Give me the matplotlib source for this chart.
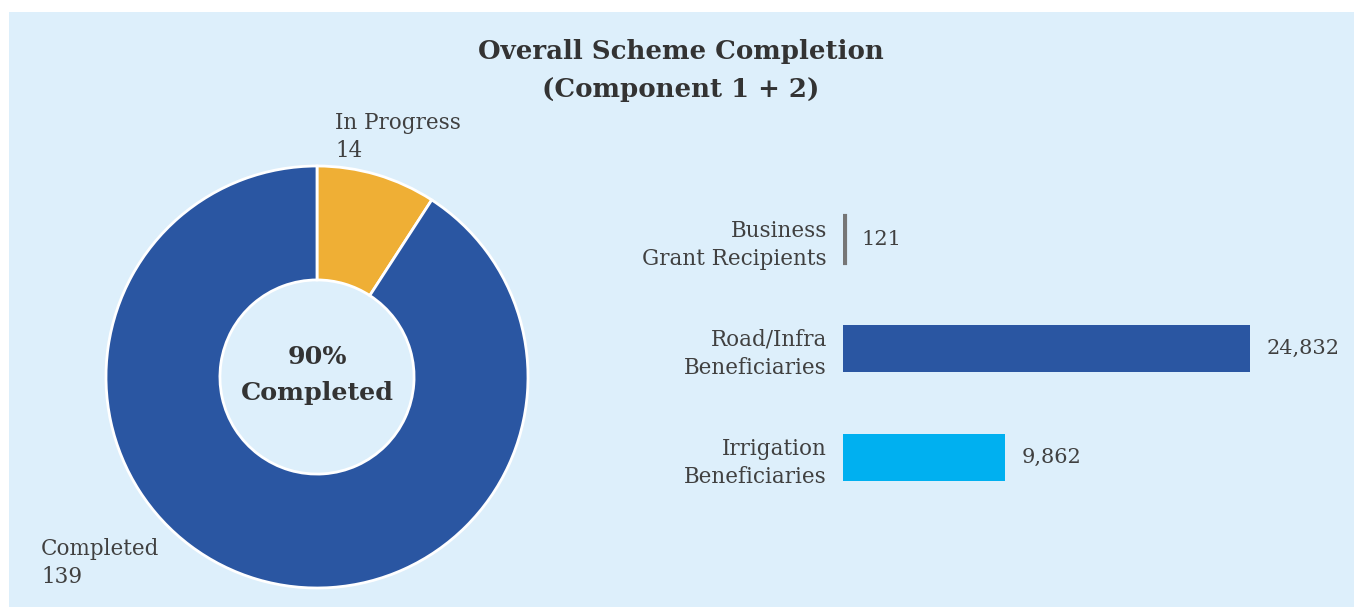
import math
import matplotlib
matplotlib.use("Agg")
import matplotlib.pyplot as plt

plt.rcParams['font.family'] = ['DejaVu Serif']

# data
pie_labels = ['In Progress', 'Completed']
pie_values = [14, 139]
pie_colors = ['#EFAF35', '#2A56A2']

bar_labels = ['Business\nGrant Recipients', 'Road/Infra\nBeneficiaries', 'Irrigation\nBeneficiaries']
bar_values = [121, 24832, 9862]
bar_colors = ['#767676', '#2A56A2', '#00B0F0']

bg = '#DDEFFB'
txt = '#404040'

W, H = 1362, 608
fig = plt.figure(figsize=(W / 100, H / 100), dpi=100)
fig.patch.set_facecolor('white')
fig.add_artist(plt.Rectangle((9 / W, 1 - 607 / H), (1354 - 9) / W, (607 - 12) / H,
                             transform=fig.transFigure, facecolor=bg, edgecolor='none', zorder=0))

fig.text(681 / W, 1 - 52 / H, 'Overall Scheme Completion', ha='center', va='center',
         fontsize=18.7, fontweight='bold', color='#333333')
fig.text(681 / W, 1 - 90 / H, '(Component 1 + 2)', ha='center', va='center',
         fontsize=18.7, fontweight='bold', color='#333333')

# donut
R = 211
axp = fig.add_axes([(317 - R) / W, 1 - (377 + R) / H, 2 * R / W, 2 * R / H])
axp.pie(pie_values, colors=pie_colors, startangle=90, counterclock=False, radius=1,
        wedgeprops=dict(width=0.54, edgecolor='white', linewidth=2))
axp.set_xlim(-1, 1)
axp.set_ylim(-1, 1)
axp.axis('off')
total = sum(pie_values)
pct = math.floor(100 * pie_values[1] / total)
axp.text(0, 0.01, f'{pct}%\nCompleted', ha='center', va='center', fontsize=18.3,
         fontweight='bold', color='#333333', linespacing=1.65)

fig.text(335 / W, 1 - 137 / H, f'{pie_labels[0]}\n{pie_values[0]}', ha='left', va='center',
         fontsize=15.5, color=txt, linespacing=1.35)
fig.text(41 / W, 1 - 563 / H, f'{pie_labels[1]}\n{pie_values[1]}', ha='left', va='center',
         fontsize=15.5, color=txt, linespacing=1.35)

# bars
x0 = 843
xmax = 30000
width_px = 407 * xmax / 24832
axb = fig.add_axes([x0 / W, 1 - 512 / H, width_px / W, 327 / H])
axb.set_facecolor('none')
pos = list(range(len(bar_values)))
axb.barh(pos, bar_values, height=0.44, color=bar_colors, edgecolor=bar_colors,
         linewidth=[3, 0, 0])
axb.set_xlim(0, xmax)
axb.set_ylim(len(bar_values) - 0.5, -0.5)
for s in axb.spines.values():
    s.set_visible(False)
axb.tick_params(left=False, bottom=False, labelbottom=False)
axb.set_yticks(pos)
axb.set_yticklabels(bar_labels, fontsize=15.5, color=txt, linespacing=1.35)
axb.tick_params(axis='y', pad=8)
for p, v in zip(pos, bar_values):
    axb.annotate(f'{v:,}', (v, p), xytext=(12, 0), textcoords='offset points',
                 ha='left', va='center', fontsize=15, color=txt)

fig.savefig('out.png', dpi=100, facecolor=fig.get_facecolor())
